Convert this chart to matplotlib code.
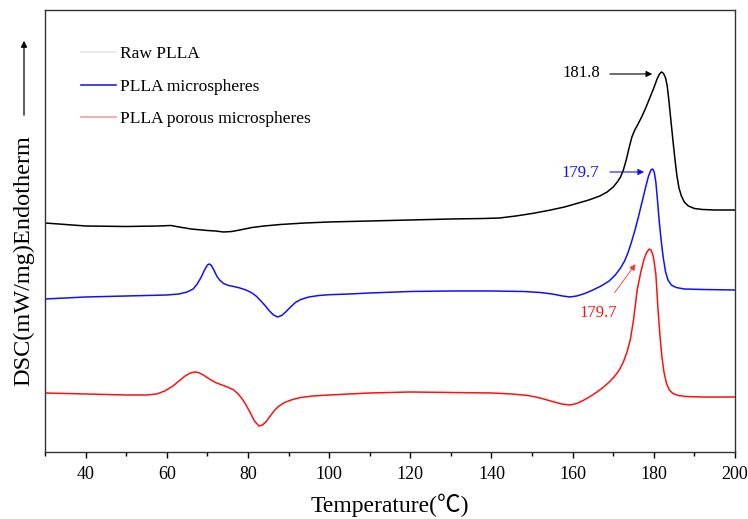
import matplotlib.pyplot as plt
from matplotlib.patches import FancyArrowPatch

# temperature (C) and DSC signal (arbitrary units, curves offset vertically)
t_black = [30, 35, 40, 50, 58, 61, 63, 66, 70, 72, 74, 76, 78, 81, 84, 88, 94, 100, 110, 120,
           130, 138, 142, 146, 150, 154, 158, 161, 164, 166.7, 168.5, 170, 171, 171.8, 172.5,
           173.2, 173.9, 174.6, 175.3, 176, 177, 178, 179, 180, 180.8, 181.4, 181.9, 182.4,
           182.9, 183.3, 183.7, 184.2, 184.7, 185.2, 185.7, 186.2, 186.8, 187.5, 188.5, 190,
           192, 195, 200]
dsc_black = [229, 227.5, 226, 225.5, 226, 226.5, 225, 223, 221.5, 221, 220, 220.5, 222, 224.5,
             226, 227.5, 229, 230, 231, 232, 233, 233.5, 234, 236, 238.5, 241.5, 245, 248.5,
             252, 256, 260, 265, 270, 275, 282, 292, 304, 315, 322, 327, 335, 344, 354, 364,
             373, 378, 380, 378.5, 374, 366, 352, 332, 312, 293, 276, 264, 256, 250, 246,
             243.5, 242.5, 242, 242]

t_blue = [30, 40, 50, 60, 63, 65, 66.5, 67.5, 68.5, 69.3, 70, 70.5, 71, 71.6, 72.3, 73, 74,
          75.2, 76.5, 78, 79.5, 80.8, 82, 83.2, 84.3, 85.3, 86.3, 87.3, 88.3, 89.3, 90.5,
          91.7, 93, 95, 97.5, 100, 105, 110, 120, 130, 140, 148, 152, 155, 157.5, 159.3, 161,
          163, 165, 167, 169, 170.5, 171.8, 172.8, 173.7, 174.5, 175.3, 176.2, 177.1, 178,
          178.7, 179.3, 179.7, 180.1, 180.5, 180.9, 181.3, 181.8, 182.3, 182.9, 183.5, 184.3,
          185.5, 187.5, 192, 200]
dsc_blue = [153, 155, 156, 157, 158, 160, 163, 168, 175, 182, 187, 188, 186.5, 182, 176, 172,
            168.5, 166.5, 165.5, 164, 162, 159.5, 156, 151, 146, 141, 137, 135, 136.5, 140,
            145, 149.5, 152.5, 155, 156.5, 157.3, 158, 159, 160.5, 161, 161, 160.5, 159.5,
            158, 156, 155, 156, 158.5, 162, 166, 171, 177, 184, 191, 200, 210, 221, 235, 250,
            265, 276, 282, 283, 280, 270, 252, 232, 212, 195, 180, 172, 167, 164.5, 163, 162.5,
            162]

t_red = [30, 40, 50, 55, 57.5, 59.5, 61.5, 63, 64.5, 65.8, 66.8, 67.8, 69, 70.5, 72, 73.6,
         75.2, 76.5, 77.6, 78.6, 79.6, 80.6, 81.6, 82.7, 83.6, 84.5, 85.5, 86.5, 87.5, 89, 91,
         93, 96, 100, 105, 110, 120, 130, 140, 145, 149, 152, 155, 157.3, 159.4, 161, 162.8,
         164.3, 166, 167.5, 169, 170.3, 171.5, 172.5, 173.4, 174.2, 175, 175.9, 176.8, 177.6,
         178.3, 178.9, 179.4, 179.9, 180.5, 181, 181.5, 182, 182.5, 183.1, 183.8, 184.7, 186,
         188, 192, 200]
dsc_red = [59, 58, 57, 57, 58, 61, 66, 71, 76, 79, 80, 79.5, 77, 73, 69.5, 67, 64.5, 62, 58,
           53, 46.5, 39, 31, 26, 27, 30.5, 36, 41.5, 45.5, 49.5, 52.5, 54.5, 56, 57, 58, 59,
           60, 59.5, 59, 58, 56.5, 54, 50.5, 48, 47, 48.5, 52, 55.5, 60, 64.5, 70, 75.5, 82,
           90, 100, 112, 132, 162, 180, 193, 200, 203, 201.5, 195, 178, 145, 117, 95, 80, 69,
           62, 58.5, 56.5, 55.5, 55, 55]

legend_labels = ['Raw PLLA', 'PLLA microspheres', 'PLLA porous microspheres']
legend_colors = ['#e4e4e4', '#2020ff', '#ff9a9a']

serif = ['Liberation Serif', 'DejaVu Serif']

fig = plt.figure(figsize=(7.48, 5.19), dpi=100)
ax = fig.add_axes([0.0602, 0.1291, 0.9224, 0.8507])

ax.plot(t_black, dsc_black, color='black', lw=1.1)
ax.plot(t_blue, dsc_blue, color='#1010ff', lw=1.1)
ax.plot(t_red, dsc_red, color='#ff1010', lw=1.1)

ax.set_xlim(30, 200)
ax.set_ylim(0, 441.5)
ax.set_xticks(range(40, 201, 20))
ax.set_xticks(range(30, 201, 10), minor=True)
ax.set_yticks([])
ax.tick_params(axis='x', which='major', length=4, width=1, pad=6, labelsize=13)
ax.tick_params(axis='x', which='minor', length=3, width=1)
for lab in ax.get_xticklabels():
    lab.set_family(serif)
for s in ax.spines.values():
    s.set_linewidth(1.0)
    s.set_color('#333333')

# legend
handles = [plt.Line2D([], [], color=c, lw=1.2) for c in legend_colors]
ax.legend(handles, legend_labels, loc='upper left', bbox_to_anchor=(0.03, 0.955),
          frameon=False, handlelength=2.0, handletextpad=0.25, labelspacing=0.95,
          prop={'family': serif, 'size': 12.5})

# peak annotations
ax.annotate('', xy=(180.3, 378), xytext=(168.5, 378),
            arrowprops=dict(arrowstyle='-|>', color='black', lw=0.8, mutation_scale=9))
ax.text(166.7, 379, '181.8', ha='right', va='center', fontsize=12, family=serif, color='black')
ax.annotate('', xy=(178.3, 280), xytext=(168.5, 280),
            arrowprops=dict(arrowstyle='-|>', color='#1010ff', lw=0.8, mutation_scale=9))
ax.text(166.5, 279, '179.7', ha='right', va='center', fontsize=12, family=serif, color='#1010ff')
ax.annotate('', xy=(175.9, 190), xytext=(169.9, 157),
            arrowprops=dict(arrowstyle='-|>', color='#ff3030', lw=0.6, mutation_scale=9))
ax.text(166.4, 139, '179.7', ha='center', va='center', fontsize=12, family=serif, color='#ff1010')

ax.set_xlabel('Temperature(℃)', fontsize=17, family=['Liberation Serif', 'Noto Sans CJK SC', 'DejaVu Sans'],
              labelpad=8)
fig.text(24 / 748, 1 - 261 / 519, 'DSC(mW/mg)Endotherm', rotation=90, ha='center', va='center',
         fontsize=17.5, family=serif)
fig.add_artist(FancyArrowPatch((24 / 748, 1 - 118 / 519), (24 / 748, 1 - 38 / 519),
                               transform=fig.transFigure, arrowstyle='-|>',
                               mutation_scale=9, color='black', lw=0.9))

fig.savefig('out.png', dpi=100)
